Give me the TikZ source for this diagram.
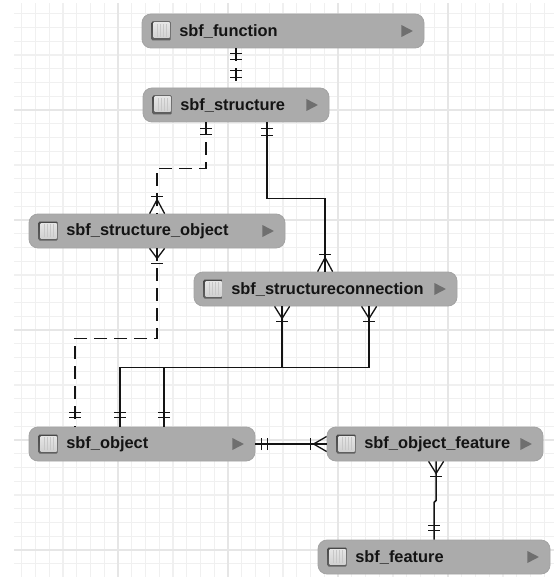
\documentclass[tikz,border=0pt]{standalone}
\usepackage{fontspec}
\setmainfont{Liberation Sans}
\usetikzlibrary{calc,decorations.markings}
\definecolor{gridminor}{HTML}{F0F0F0}
\definecolor{gridmajor}{HTML}{E6E6E6}
\definecolor{boxfill}{HTML}{ABABAB}
\definecolor{boxedge}{HTML}{A3A3A3}
\definecolor{inkdark}{HTML}{141414}
\definecolor{arrowgray}{HTML}{6F6F6F}
\tikzset{
  entitybox/.style={draw=boxedge,line width=0.8pt,fill=boxfill,rounded corners=9pt,inner sep=0pt},
  entitylabel/.style={anchor=west,inner sep=0pt,text=inkdark,font=\fontsize{16.4}{19}\selectfont\bfseries},
  link/.style={draw=inkdark,line width=1.6pt},
  dashlink/.style={link,dash pattern=on 13pt off 7pt},
  tickat/.style={postaction={decorate,decoration={markings,mark=at position #1 with {\draw[solid,draw=inkdark,line width=1.5pt] (0pt,-6pt)--(0pt,6pt);}}}},
  crowend/.style={postaction={decorate,decoration={markings,mark=at position -#1 with {\draw[solid,draw=inkdark,line width=1.3pt] (#1,-7.5pt)--(0pt,0pt)--(#1,7.5pt);}}}},
  crowstart/.style={postaction={decorate,decoration={markings,mark=at position #1 with {\draw[solid,draw=inkdark,line width=1.3pt] (-#1,-7.5pt)--(0pt,0pt)--(-#1,7.5pt);}}}},
}
\newcommand{\entity}[6]{%
  \node[entitybox,minimum width={(#4-#2)*1pt},minimum height={(#5-#3)*1pt}] (#1) at ({(#2+#4)/2},{(#3+#5)/2}) {};
  \shade[top color=black!72,bottom color=black!62,rounded corners=1pt] ($(#1.west)+(10pt,-9.5pt)$) rectangle ($(#1.west)+(29pt,9.5pt)$);
  \shade[top color=white!90!black,bottom color=black!18] ($(#1.west)+(12pt,-7pt)$) rectangle ($(#1.west)+(28pt,8pt)$);
  \foreach \s in {16,19,22,25} {\draw[black!22,line width=0.7pt] ($(#1.west)+(\s pt,-6pt)$) -- ($(#1.west)+(\s pt,7pt)$);}
  \fill[arrowgray] ($(#1.east)+(-23pt,-6pt)$) -- ($(#1.east)+(-11.5pt,0pt)$) -- ($(#1.east)+(-23pt,6pt)$) -- cycle;
  \node[entitylabel] (#1-label) at ($(#1.west)+(37.5pt,-0.5pt)$) {#6};
}
\begin{document}
\begin{tikzpicture}[x=1pt,y=-1pt]
\useasboundingbox (0,0) rectangle (554,577);
\fill[white] (0,0) rectangle (554,577);
% grid
\begin{scope}
\clip (14,4) rectangle (554,577);
\foreach \k in {0,...,40} {\draw[gridminor,line width=1.4pt] ({8+13.75*\k},0) -- ({8+13.75*\k},577);}
\foreach \k in {0,...,42} {\draw[gridminor,line width=1.4pt] (0,{0+13.75*\k}) -- (554,{0+13.75*\k});}
\foreach \k in {1,...,5} {\draw[gridmajor,line width=1.4pt] ({8+110*\k},0) -- ({8+110*\k},577);}
\foreach \k in {1,...,5} {\draw[gridmajor,line width=1.4pt] (0,{110*\k}) -- (554,{110*\k});}
\end{scope}
% entities
\entity{fn}{142}{14}{424}{48}{sbf\_function}
\entity{st}{143}{88}{329}{122}{sbf\_structure}
\entity{so}{29}{214}{285}{248}{sbf\_structure\_object}
\entity{sc}{194}{272}{457}{306}{sbf\_structureconnection}
\entity{ob}{29}{427}{255}{461}{sbf\_object}
\entity{of}{327}{427}{543}{461}{sbf\_object\_feature}
\entity{fe}{318}{540}{550}{574}{sbf\_feature}
% connectors
\draw[dashlink,tickat=5pt,tickat=11pt,tickat=-17pt,tickat=-10pt]
  ([xshift=94.5pt]fn.south west) -- ([xshift=93.5pt]st.north west);
\draw[dashlink,tickat=6pt,tickat=12pt,tickat=-17pt,crowend=14pt]
  ([xshift=63.5pt]st.south west) |- ++(-49,46) -- ([xshift=128.5pt]so.north west);
\draw[dashlink,crowstart=10pt,tickat=15pt,tickat=-14pt,tickat=-9pt]
  ([xshift=128.5pt]so.south west) -- ++(0,90) -| ([xshift=46.5pt]ob.north west);
\draw[link,tickat=6pt,tickat=13pt,tickat=-17pt,crowend=14pt]
  ([xshift=124.5pt]st.south west) |- ++(58,76) -- ([xshift=131.5pt]sc.north west);
\draw[link,crowstart=12pt,tickat=15pt]
  ([xshift=88.5pt]sc.south west) -- ++(0,61) coordinate (busa);
\draw[link,crowstart=12pt,tickat=15pt]
  ([xshift=175.5pt]sc.south west) |- (busa);
\draw[link,tickat=-14pt,tickat=-9pt]
  (busa) -| ([xshift=91.5pt]ob.north west);
\draw[link,tickat=-14pt,tickat=-9pt]
  (busa) -| ([xshift=135.5pt]ob.north west);
\draw[link,tickat=6pt,tickat=12pt,tickat=-16pt,crowend=13pt]
  (ob.east) -- (of.west);
\draw[link,crowstart=12pt,tickat=15pt,tickat=-14pt,tickat=-9pt]
  ([xshift=109.5pt]of.south west) -- ++(0,39) -- ++(-2,2) -- ([xshift=116.5pt]fe.north west);
\end{tikzpicture}
\end{document}
